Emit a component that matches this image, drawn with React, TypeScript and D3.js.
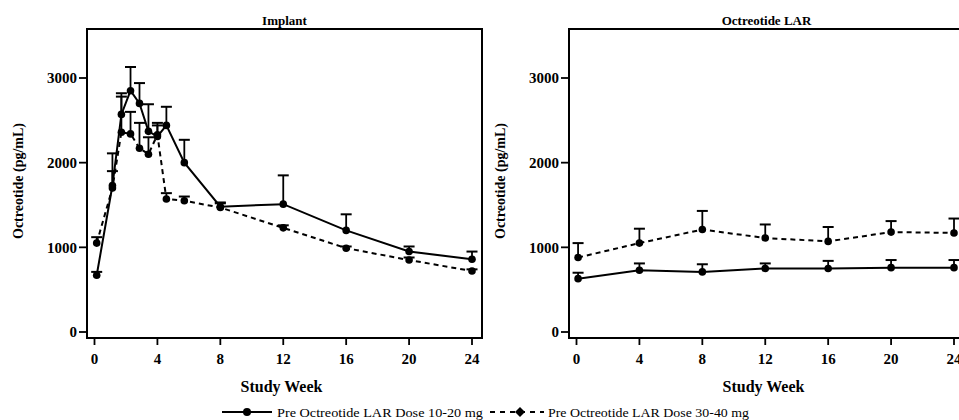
import * as d3 from "d3";

// Study weeks and mean (+ upper SD) octreotide levels, pg/mL
const implantWeeks = [0.14, 1.14, 1.71, 2.29, 2.86, 3.43, 4.0, 4.57, 5.71, 8, 12, 16, 20, 24];
const implantLow = [670, 1730, 2570, 2850, 2700, 2370, 2310, 2440, 2000, 1480, 1510, 1200, 950, 860];
const implantLowUpper = [710, 2110, 2820, 3130, 2940, 2690, 2440, 2660, 2270, 1530, 1850, 1390, 1010, 950];
const implantHigh = [1050, 1700, 2360, 2340, 2170, 2100, 2330, 1570, 1550, 1470, 1230, 990, 850, 720];
const implantHighUpper = [1120, 1900, 2780, 2600, 2470, 2300, 2470, 1640, 1600, 1520, 1260, 1010, 880, 740];

const larWeeks = [0.1, 4, 8, 12, 16, 20, 24];
const larLow = [630, 730, 710, 750, 750, 760, 760];
const larLowUpper = [700, 810, 800, 810, 840, 850, 850];
const larHigh = [880, 1050, 1210, 1110, 1070, 1180, 1170];
const larHighUpper = [1050, 1220, 1430, 1270, 1240, 1310, 1340];

const xTicks = [0, 4, 8, 12, 16, 20, 24];
const yTicks = [0, 1000, 2000, 3000];
const legendLabels = ["Pre Octreotide LAR Dose 10-20 mg", "Pre Octreotide LAR Dose 30-40 mg"];

const FONT = "Liberation Serif, Times New Roman, Times, DejaVu Serif, serif";
const DASH = "5 4";

interface Series {
  mean: number[];
  upper: number[];
  dashed: boolean;
}

interface PanelProps {
  title: string;
  left: number;
  right: number;
  weeks: number[];
  series: Series[];
  labelX: number;
}

const TOP = 29;
const BOTTOM = 338;

function Panel({ title, left, right, weeks, series, labelX }: PanelProps) {
  const x = d3.scaleLinear().domain([0, 24]).range([left + 7.5, right - 10]);
  const y = d3.scaleLinear().domain([0, 3000]).range([332, 78]);
  const line = d3
    .line<number>()
    .x((_, i) => x(weeks[i]))
    .y((d) => y(d));

  return (
    <g>
      <text x={(left + right) / 2} y={25} textAnchor="middle" fontSize={13} fontWeight="bold">
        {title}
      </text>
      <rect x={left} y={TOP} width={right - left} height={BOTTOM - TOP} fill="none" stroke="#000" strokeWidth={2} />

      {yTicks.map((t) => (
        <g key={t}>
          <line x1={left - 8} x2={left} y1={y(t)} y2={y(t)} stroke="#000" strokeWidth={1.8} />
          <text x={left - 10} y={y(t)} dy="0.35em" textAnchor="end" fontSize={15} fontWeight="bold">
            {t}
          </text>
        </g>
      ))}
      {xTicks.map((t) => (
        <g key={t}>
          <line x1={x(t)} x2={x(t)} y1={BOTTOM} y2={BOTTOM + 7} stroke="#000" strokeWidth={1.8} />
          <text x={x(t)} y={359} dy="0.35em" textAnchor="middle" fontSize={15} fontWeight="bold">
            {t}
          </text>
        </g>
      ))}

      <text x={(left + right) / 2 - 3} y={386} dy="0.35em" textAnchor="middle" fontSize={16} fontWeight="bold">
        Study Week
      </text>
      <text
        transform={`translate(${labelX},181) rotate(-90)`}
        dy="0.35em"
        textAnchor="middle"
        fontSize={14}
        fontWeight="bold"
      >
        Octreotide (pg/mL)
      </text>

      {series.map((s, si) => (
        <g key={si}>
          <path
            d={line(s.mean) ?? ""}
            fill="none"
            stroke="#000"
            strokeWidth={2}
            strokeDasharray={s.dashed ? DASH : undefined}
          />
          {s.mean.map((v, i) => (
            <g key={i}>
              <line x1={x(weeks[i])} x2={x(weeks[i])} y1={y(v)} y2={y(s.upper[i])} stroke="#000" strokeWidth={1.8} />
              <line
                x1={x(weeks[i]) - 5.5}
                x2={x(weeks[i]) + 5.5}
                y1={y(s.upper[i])}
                y2={y(s.upper[i])}
                stroke="#000"
                strokeWidth={2}
              />
              <circle cx={x(weeks[i])} cy={y(v)} r={3.8} fill="#000" />
            </g>
          ))}
        </g>
      ))}
    </g>
  );
}

function Legend() {
  const cy = 412;
  return (
    <g fontSize={13}>
      <line x1={222} x2={272} y1={cy} y2={cy} stroke="#000" strokeWidth={2} />
      <circle cx={247} cy={cy} r={4} fill="#000" />
      <text x={277} y={cy} dy="0.35em" textLength={206} lengthAdjust="spacingAndGlyphs">
        {legendLabels[0]}
      </text>
      <line x1={490} x2={544} y1={cy} y2={cy} stroke="#000" strokeWidth={2} strokeDasharray="5 5" />
      <path d={`M${520},${cy - 5}L${525},${cy}L${520},${cy + 5}L${515},${cy}Z`} fill="#000" />
      <text x={548} y={cy} dy="0.35em" textLength={201} lengthAdjust="spacingAndGlyphs">
        {legendLabels[1]}
      </text>
    </g>
  );
}

export default function App() {
  return (
    <svg
      width={959}
      height={420}
      viewBox="0 0 959 420"
      style={{ position: "absolute", left: 0, top: 0, background: "#fff", fontFamily: FONT }}
    >
      <rect width={959} height={420} fill="#fff" />
      <Panel
        title="Implant"
        left={87}
        right={482}
        weeks={implantWeeks}
        labelX={18}
        series={[
          { mean: implantLow, upper: implantLowUpper, dashed: false },
          { mean: implantHigh, upper: implantHighUpper, dashed: true },
        ]}
      />
      <Panel
        title="Octreotide LAR"
        left={569}
        right={964}
        weeks={larWeeks}
        labelX={500}
        series={[
          { mean: larLow, upper: larLowUpper, dashed: false },
          { mean: larHigh, upper: larHighUpper, dashed: true },
        ]}
      />
      <Legend />
    </svg>
  );
}
